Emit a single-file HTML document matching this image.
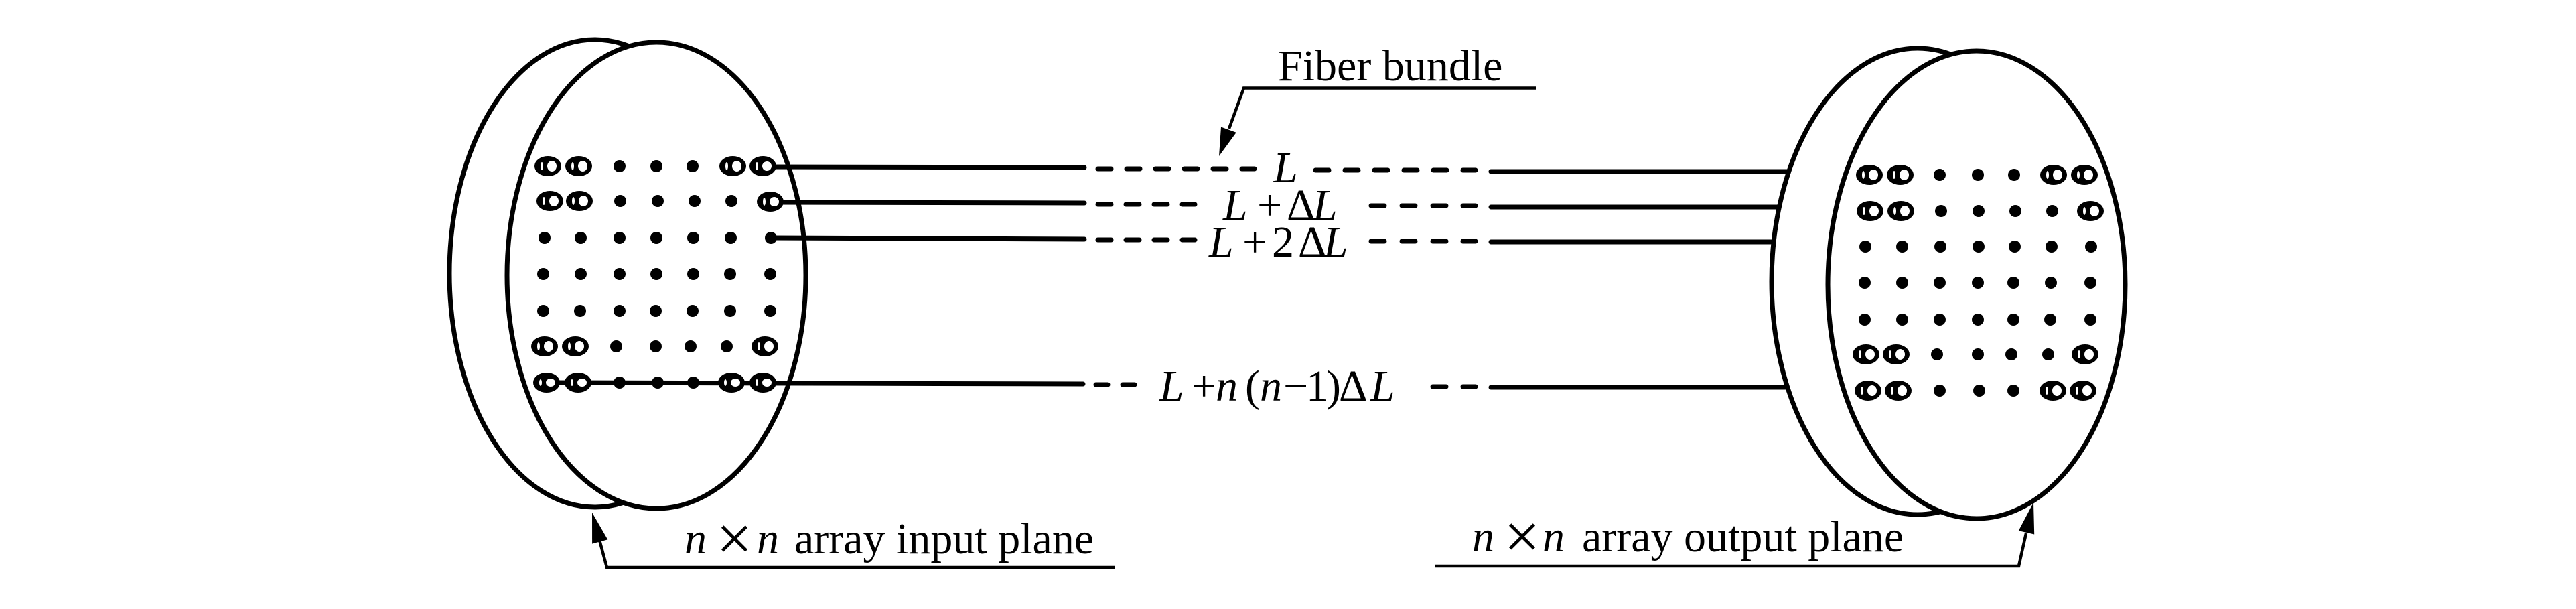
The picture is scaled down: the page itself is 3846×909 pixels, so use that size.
<!DOCTYPE html>
<html>
<head>
<meta charset="utf-8">
<style>
  html, body { margin: 0; padding: 0; background: #fff; }
  svg { display: block; font-family: "Liberation Serif", "Times New Roman", serif; }
  text { font-family: "Liberation Serif", "Times New Roman", serif; fill: #000; }
  .it { font-style: italic; }
</style>
</head>
<body>
<svg width="3846" height="909" viewBox="0 0 3846 909" xmlns="http://www.w3.org/2000/svg" font-family="Liberation Serif, serif">
  <rect x="0" y="0" width="3846" height="909" fill="#fff"/>

  <!-- ===== LEFT DISK ===== -->
  <ellipse cx="888" cy="408" rx="217" ry="349" fill="#fff" stroke="#000" stroke-width="7"/>
  <ellipse cx="980" cy="411" rx="223" ry="348" fill="#fff" stroke="#000" stroke-width="7"/>

  <g fill="#000">
    <circle cx="925" cy="248" r="9"/><circle cx="980" cy="248" r="9"/><circle cx="1034" cy="248" r="9"/>
    <circle cx="926" cy="300" r="9"/><circle cx="982" cy="300" r="9"/><circle cx="1037" cy="300" r="9"/><circle cx="1092" cy="300" r="9"/>
    <circle cx="813" cy="355" r="9"/><circle cx="867" cy="355" r="9"/><circle cx="925" cy="355" r="9"/><circle cx="980" cy="355" r="9"/><circle cx="1035" cy="355" r="9"/><circle cx="1091" cy="355" r="9"/><circle cx="1151" cy="355" r="9"/>
    <circle cx="811" cy="409" r="9"/><circle cx="867" cy="409" r="9"/><circle cx="925" cy="409" r="9"/><circle cx="980" cy="409" r="9"/><circle cx="1035" cy="409" r="9"/><circle cx="1090" cy="409" r="9"/><circle cx="1150" cy="409" r="9"/>
    <circle cx="811" cy="464" r="9"/><circle cx="866" cy="464" r="9"/><circle cx="925" cy="464" r="9"/><circle cx="979" cy="464" r="9"/><circle cx="1034" cy="464" r="9"/><circle cx="1090" cy="464" r="9"/><circle cx="1150" cy="464" r="9"/>
    <circle cx="920" cy="517" r="9"/><circle cx="979" cy="517" r="9"/><circle cx="1031" cy="517" r="9"/><circle cx="1085" cy="517" r="9"/>
    <circle cx="925" cy="571" r="9"/><circle cx="982" cy="571" r="9"/><circle cx="1035" cy="571" r="9"/>
  </g>

  <g stroke="#000" stroke-width="7" stroke-linecap="round" fill="none">
    <line x1="1139" y1="249" x2="1619" y2="250"/>
    <line x1="1150" y1="302" x2="1619" y2="303"/>
    <line x1="1151" y1="355" x2="1619" y2="357"/>
    <line x1="816" y1="571" x2="1617" y2="573"/>
  </g>

  <g>
    <g fill="#000">
      <ellipse cx="818" cy="248" rx="20" ry="15"/><ellipse cx="864" cy="248" rx="20" ry="15"/>
      <ellipse cx="1094" cy="248" rx="20" ry="15"/><ellipse cx="1139" cy="248" rx="20" ry="15"/>
      <ellipse cx="821" cy="300" rx="20" ry="15"/><ellipse cx="865" cy="300" rx="20" ry="15"/>
      <ellipse cx="1150" cy="301" rx="20" ry="15"/>
      <ellipse cx="813" cy="517" rx="20" ry="15"/><ellipse cx="859" cy="517" rx="20" ry="15"/>
      <ellipse cx="1142" cy="517" rx="20" ry="15"/>
      <ellipse cx="816" cy="571" rx="20" ry="15"/><ellipse cx="863" cy="571" rx="20" ry="15"/>
      <ellipse cx="1092" cy="571" rx="20" ry="15"/><ellipse cx="1139" cy="571" rx="20" ry="15"/>
    </g>
    <g fill="#fff">
      <ellipse cx="824" cy="248" rx="7" ry="8"/><ellipse cx="870" cy="248" rx="7" ry="8"/>
      <ellipse cx="1100" cy="248" rx="7" ry="8"/><ellipse cx="1145" cy="248" rx="7" ry="7"/>
      <ellipse cx="827" cy="300" rx="7" ry="8"/><ellipse cx="871" cy="300" rx="7" ry="8"/>
      <ellipse cx="1156" cy="301" rx="7" ry="7"/>
      <ellipse cx="819" cy="517" rx="7" ry="8"/><ellipse cx="865" cy="517" rx="7" ry="8"/>
      <ellipse cx="1148" cy="517" rx="7" ry="8"/>
      <ellipse cx="822" cy="571" rx="7" ry="6"/><ellipse cx="869" cy="571" rx="7" ry="6"/>
      <ellipse cx="1098" cy="571" rx="7" ry="6"/><ellipse cx="1145" cy="571" rx="7" ry="6"/>
      <ellipse cx="809" cy="248" rx="2" ry="6"/><ellipse cx="855" cy="248" rx="2" ry="6"/>
      <ellipse cx="1085" cy="248" rx="2" ry="6"/><ellipse cx="1130" cy="248" rx="2" ry="6"/>
      <ellipse cx="812" cy="300" rx="2" ry="6"/><ellipse cx="856" cy="300" rx="2" ry="6"/>
      <ellipse cx="1141" cy="301" rx="2" ry="6"/>
      <ellipse cx="804" cy="517" rx="2" ry="6"/><ellipse cx="850" cy="517" rx="2" ry="6"/>
      <ellipse cx="1133" cy="517" rx="2" ry="6"/>
      <ellipse cx="807" cy="571" rx="2" ry="5"/><ellipse cx="854" cy="571" rx="2" ry="5"/>
      <ellipse cx="1083" cy="571" rx="2" ry="5"/><ellipse cx="1130" cy="571" rx="2" ry="5"/>
    </g>
  </g>

  <!-- ===== RIGHT DISK ===== -->
  <ellipse cx="2863" cy="420" rx="218" ry="348" fill="#fff" stroke="#000" stroke-width="7"/>
  <ellipse cx="2951" cy="425" rx="222" ry="349" fill="#fff" stroke="#000" stroke-width="7"/>

  <g fill="#000">
    <circle cx="2896" cy="261" r="9"/><circle cx="2953" cy="261" r="9"/><circle cx="3007" cy="261" r="9"/>
    <circle cx="2898" cy="315" r="9"/><circle cx="2954" cy="315" r="9"/><circle cx="3009" cy="315" r="9"/><circle cx="3064" cy="315" r="9"/>
    <circle cx="2785" cy="368" r="9"/><circle cx="2840" cy="368" r="9"/><circle cx="2897" cy="368" r="9"/><circle cx="2954" cy="368" r="9"/><circle cx="3008" cy="368" r="9"/><circle cx="3063" cy="368" r="9"/><circle cx="3122" cy="368" r="9"/>
    <circle cx="2784" cy="422" r="9"/><circle cx="2840" cy="422" r="9"/><circle cx="2896" cy="422" r="9"/><circle cx="2953" cy="422" r="9"/><circle cx="3006" cy="422" r="9"/><circle cx="3062" cy="422" r="9"/><circle cx="3121" cy="422" r="9"/>
    <circle cx="2784" cy="477" r="9"/><circle cx="2840" cy="477" r="9"/><circle cx="2896" cy="477" r="9"/><circle cx="2953" cy="477" r="9"/><circle cx="3006" cy="477" r="9"/><circle cx="3061" cy="477" r="9"/><circle cx="3121" cy="477" r="9"/>
    <circle cx="2892" cy="529" r="9"/><circle cx="2953" cy="529" r="9"/><circle cx="3003" cy="529" r="9"/><circle cx="3058" cy="529" r="9"/>
    <circle cx="2896" cy="583" r="9"/><circle cx="2955" cy="583" r="9"/><circle cx="3006" cy="583" r="9"/>
  </g>
  <g>
    <g fill="#000">
      <ellipse cx="2791" cy="261" rx="20" ry="15"/><ellipse cx="2837" cy="261" rx="20" ry="15"/>
      <ellipse cx="3066" cy="261" rx="20" ry="15"/><ellipse cx="3112" cy="261" rx="20" ry="15"/>
      <ellipse cx="2792" cy="315" rx="20" ry="15"/><ellipse cx="2838" cy="315" rx="20" ry="15"/>
      <ellipse cx="3121" cy="315" rx="20" ry="15"/>
      <ellipse cx="2786" cy="529" rx="20" ry="15"/><ellipse cx="2831" cy="529" rx="20" ry="15"/>
      <ellipse cx="3113" cy="529" rx="20" ry="15"/>
      <ellipse cx="2789" cy="583" rx="20" ry="15"/><ellipse cx="2834" cy="583" rx="20" ry="15"/>
      <ellipse cx="3065" cy="583" rx="20" ry="15"/><ellipse cx="3110" cy="583" rx="20" ry="15"/>
    </g>
    <g fill="#fff">
      <ellipse cx="2797" cy="261" rx="7" ry="8"/><ellipse cx="2843" cy="261" rx="7" ry="8"/>
      <ellipse cx="3072" cy="261" rx="7" ry="8"/><ellipse cx="3118" cy="261" rx="7" ry="8"/>
      <ellipse cx="2798" cy="315" rx="7" ry="8"/><ellipse cx="2844" cy="315" rx="7" ry="8"/>
      <ellipse cx="3127" cy="315" rx="7" ry="8"/>
      <ellipse cx="2792" cy="529" rx="7" ry="8"/><ellipse cx="2837" cy="529" rx="7" ry="8"/>
      <ellipse cx="3119" cy="529" rx="7" ry="8"/>
      <ellipse cx="2795" cy="583" rx="7" ry="8"/><ellipse cx="2840" cy="583" rx="7" ry="8"/>
      <ellipse cx="3071" cy="583" rx="7" ry="8"/><ellipse cx="3116" cy="583" rx="7" ry="8"/>
      <ellipse cx="2782" cy="261" rx="2" ry="6"/><ellipse cx="2828" cy="261" rx="2" ry="6"/>
      <ellipse cx="3057" cy="261" rx="2" ry="6"/><ellipse cx="3103" cy="261" rx="2" ry="6"/>
      <ellipse cx="2783" cy="315" rx="2" ry="6"/><ellipse cx="2829" cy="315" rx="2" ry="6"/>
      <ellipse cx="3112" cy="315" rx="2" ry="6"/>
      <ellipse cx="2777" cy="529" rx="2" ry="6"/><ellipse cx="2822" cy="529" rx="2" ry="6"/>
      <ellipse cx="3104" cy="529" rx="2" ry="6"/>
      <ellipse cx="2780" cy="583" rx="2" ry="6"/><ellipse cx="2825" cy="583" rx="2" ry="6"/>
      <ellipse cx="3056" cy="583" rx="2" ry="6"/><ellipse cx="3101" cy="583" rx="2" ry="6"/>
    </g>
  </g>

  <g stroke="#000" stroke-width="7" stroke-linecap="round" fill="none">
    <line x1="2226" y1="256" x2="2670" y2="256"/>
    <line x1="2226" y1="309" x2="2656" y2="309"/>
    <line x1="2226" y1="361" x2="2647" y2="361"/>
    <line x1="2226" y1="578" x2="2668" y2="578"/>
  </g>

  <!-- dashes -->
  <g stroke="#000" stroke-width="7" stroke-linecap="round">
    <line x1="1639" y1="252" x2="1659" y2="252"/>
    <line x1="1682" y1="252" x2="1702" y2="252"/>
    <line x1="1725" y1="252" x2="1745" y2="252"/>
    <line x1="1768" y1="252" x2="1788" y2="252"/>
    <line x1="1811" y1="252" x2="1831" y2="252"/>
    <line x1="1854" y1="252" x2="1873" y2="252"/>
    <line x1="1964" y1="254" x2="1984" y2="254"/>
    <line x1="2008" y1="254" x2="2028" y2="254"/>
    <line x1="2052" y1="254" x2="2072" y2="254"/>
    <line x1="2096" y1="254" x2="2116" y2="254"/>
    <line x1="2140" y1="254" x2="2160" y2="254"/>
    <line x1="2184" y1="254" x2="2203" y2="254"/>
    <line x1="1639" y1="305" x2="1659" y2="305"/>
    <line x1="1681" y1="305" x2="1701" y2="305"/>
    <line x1="1723" y1="305" x2="1743" y2="305"/>
    <line x1="1765" y1="305" x2="1784" y2="305"/>
    <line x1="2047" y1="307" x2="2067" y2="307"/>
    <line x1="2093" y1="307" x2="2113" y2="307"/>
    <line x1="2139" y1="307" x2="2159" y2="307"/>
    <line x1="2184" y1="307" x2="2203" y2="307"/>
    <line x1="1639" y1="358" x2="1659" y2="358"/>
    <line x1="1681" y1="358" x2="1701" y2="358"/>
    <line x1="1723" y1="358" x2="1743" y2="358"/>
    <line x1="1765" y1="358" x2="1784" y2="358"/>
    <line x1="2047" y1="360" x2="2067" y2="360"/>
    <line x1="2093" y1="360" x2="2113" y2="360"/>
    <line x1="2139" y1="360" x2="2159" y2="360"/>
    <line x1="2184" y1="360" x2="2203" y2="360"/>
    <line x1="1636" y1="574" x2="1654" y2="574"/>
    <line x1="1676" y1="574" x2="1694" y2="574"/>
    <line x1="2139" y1="577" x2="2159" y2="577"/>
    <line x1="2184" y1="577" x2="2203" y2="577"/>
  </g>

  <!-- length labels -->
  <text font-family="Liberation Serif, serif" font-size="66" y="272"><tspan font-style="italic" x="1901">L</tspan></text>
  <text font-family="Liberation Serif, serif" font-size="66" y="328"><tspan font-style="italic" x="1826">L</tspan><tspan x="1877">+</tspan><tspan x="1921">Δ</tspan><tspan font-style="italic" x="1960">L</tspan></text>
  <text font-family="Liberation Serif, serif" font-size="66" y="383"><tspan font-style="italic" x="1805">L</tspan><tspan x="1855">+</tspan><tspan x="1899">2</tspan><tspan x="1938">Δ</tspan><tspan font-style="italic" x="1976">L</tspan></text>
  <text font-family="Liberation Serif, serif" font-size="66" y="598"><tspan font-style="italic" x="1731">L</tspan><tspan x="1779">+</tspan><tspan font-style="italic" x="1815">n</tspan><tspan x="1859">(</tspan><tspan font-style="italic" x="1881">n</tspan><tspan x="1916">−</tspan><tspan x="1950">1</tspan><tspan x="1980">)</tspan><tspan x="1999">Δ</tspan><tspan font-style="italic" x="2046">L</tspan></text>

  <!-- Fiber bundle label + leader -->
  <text font-family="Liberation Serif, serif" font-size="66" x="1908" y="120">Fiber bundle</text>
  <polyline points="2293,131.5 1857,131.5 1835,192" stroke="#000" stroke-width="4.5" fill="none"/>
  <polygon points="1820,233 1823,189.5 1845.7,197.7" fill="#000"/>

  <!-- input plane label -->
  <polyline points="1665,847 906,847 895,806" stroke="#000" stroke-width="4.5" fill="none"/>
  <polygon points="884,765 907.3,805.4 884.1,811.6" fill="#000"/>
  <text font-family="Liberation Serif, serif" font-size="66" y="826"><tspan font-style="italic" x="1022">n</tspan></text>
  <text font-family="Liberation Serif, serif" font-size="96" y="836" x="1096.5" text-anchor="middle">×</text>
  <text font-family="Liberation Serif, serif" font-size="66" y="826"><tspan font-style="italic" x="1130">n</tspan></text>
  <text font-family="Liberation Serif, serif" font-size="66" x="1186" y="826">array input plane</text>

  <!-- output plane label -->
  <polyline points="2143,845 3014,845 3025,796" stroke="#000" stroke-width="4.5" fill="none"/>
  <polygon points="3036,750 3037.2,797.5 3013.8,792.1" fill="#000"/>
  <text font-family="Liberation Serif, serif" font-size="66" y="823"><tspan font-style="italic" x="2198">n</tspan></text>
  <text font-family="Liberation Serif, serif" font-size="96" y="833" x="2272.5" text-anchor="middle">×</text>
  <text font-family="Liberation Serif, serif" font-size="66" y="823"><tspan font-style="italic" x="2303">n</tspan></text>
  <text font-family="Liberation Serif, serif" font-size="66" x="2362" y="823">array output plane</text>
</svg>
</body>
</html>
